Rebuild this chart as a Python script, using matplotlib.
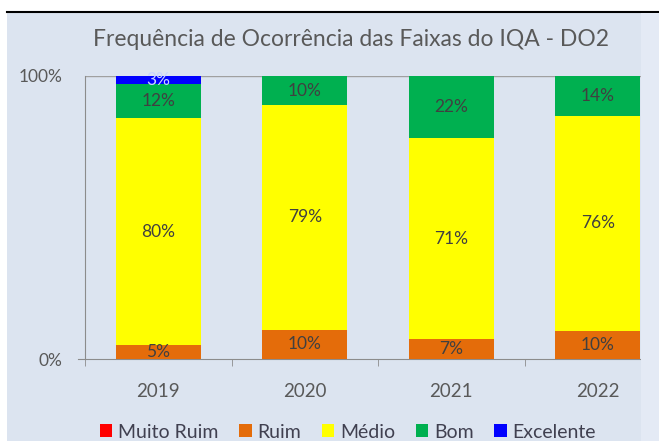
import numpy as np
import matplotlib
matplotlib.use("Agg")
import matplotlib.pyplot as plt
from matplotlib.patches import Rectangle

plt.rcParams['font.family'] = ['Lato', 'DejaVu Sans']

years = ["2019", "2020", "2021", "2022"]
classes = ["Muito Ruim", "Ruim", "Médio", "Bom", "Excelente"]
muito_ruim = [0, 0, 0, 0]
ruim = [5, 10.4, 7, 10]
medio = [80, 79.3, 71, 76]
bom = [12, 10.3, 22, 14]
excelente = [3, 0, 0, 0]
colors = ["#ff0000", "#e46c0a", "#ffff00", "#00b050", "#0000ff"]
label_colors = ["#404040", "#404040", "#404040", "#404040", "#c8d4ff"]

W, H = 659, 441
bg = "#dce4f0"

fig = plt.figure(figsize=(W / 100, H / 100), dpi=100)
fig.patch.set_facecolor("white")

# chart background below the black rule
fig.patches.append(Rectangle((7 / W, 0), 1, (H - 13) / H, transform=fig.transFigure,
                             facecolor=bg, edgecolor="none", zorder=-10))
fig.add_artist(plt.Line2D([7 / W, 1], [(H - 12) / H] * 2, color="black", lw=1.5))

# caption from the page above, only its lowest strokes show
fig.text(80 / W, 1 + 7 / H, "Figura 5 – IQA por ponto de monitoramento, por ano (DO2)",
         fontsize=22, va="baseline", ha="left", color="black")

left, right = 85, 671
bottom, top = 359, 76
ax = fig.add_axes([left / W, (H - bottom) / H, (right - left) / W, (bottom - top) / H])
ax.set_facecolor("none")

x = np.arange(len(years))
series = [muito_ruim, ruim, medio, bom, excelente]
base = np.zeros(len(years))
for name, vals, c, lc in zip(classes, series, colors, label_colors):
    vals = np.array(vals, dtype=float)
    ax.bar(x, vals, 0.58, bottom=base, color=c, label=name, zorder=3)
    for xi, b, v in zip(x, base, vals):
        if v > 0:
            ax.text(xi, b + v / 2, "%.0f%%" % v, ha="center", va="center",
                    fontsize=12.5, color=lc, zorder=4)
    base += vals

ax.set_xlim(-0.5, 3.5)
ax.set_ylim(0, 100)
ax.set_yticks([0, 100])
ax.set_yticklabels(["0%", "100%"])
ax.set_xticks(x)
ax.set_xticklabels(years)
ax.set_xticks(np.arange(-0.5, 4, 1), minor=True)
ax.tick_params(axis="x", which="major", length=0, pad=17, labelsize=13.5, labelcolor="#595959")
ax.tick_params(axis="x", which="minor", length=5, color="#8c8c8c", direction="out")
ax.tick_params(axis="y", length=0, pad=16, labelsize=12.5, labelcolor="#595959")
ax.axhline(100, color="#a0a0a0", lw=1, zorder=2)
for s in ["top", "right"]:
    ax.spines[s].set_visible(False)
ax.spines["left"].set_color("#8c8c8c")
ax.spines["bottom"].set_color("#8c8c8c")
ax.spines["bottom"].set_bounds(-0.55, 3.5)

fig.text(351 / W, (H - 40) / H, "Frequência de Ocorrência das Faixas do IQA - DO2",
         ha="center", va="center", fontsize=16.5, color="#595959")

handles, labels = ax.get_legend_handles_labels()
fig.legend(handles, labels, loc="center", bbox_to_anchor=(348 / W, (H - 432) / H), ncol=5,
           frameon=False, fontsize=14, handlelength=0.65, handleheight=0.65,
           handletextpad=0.3, columnspacing=1.05, labelcolor="#404050")

# lighter strip at the right edge
fig.patches.append(Rectangle((641 / W, 0), 1, (H - 13) / H, transform=fig.transFigure,
                             facecolor="#e4eaf5", edgecolor="none", zorder=10))

fig.savefig("out.png", dpi=100, facecolor=fig.get_facecolor())
